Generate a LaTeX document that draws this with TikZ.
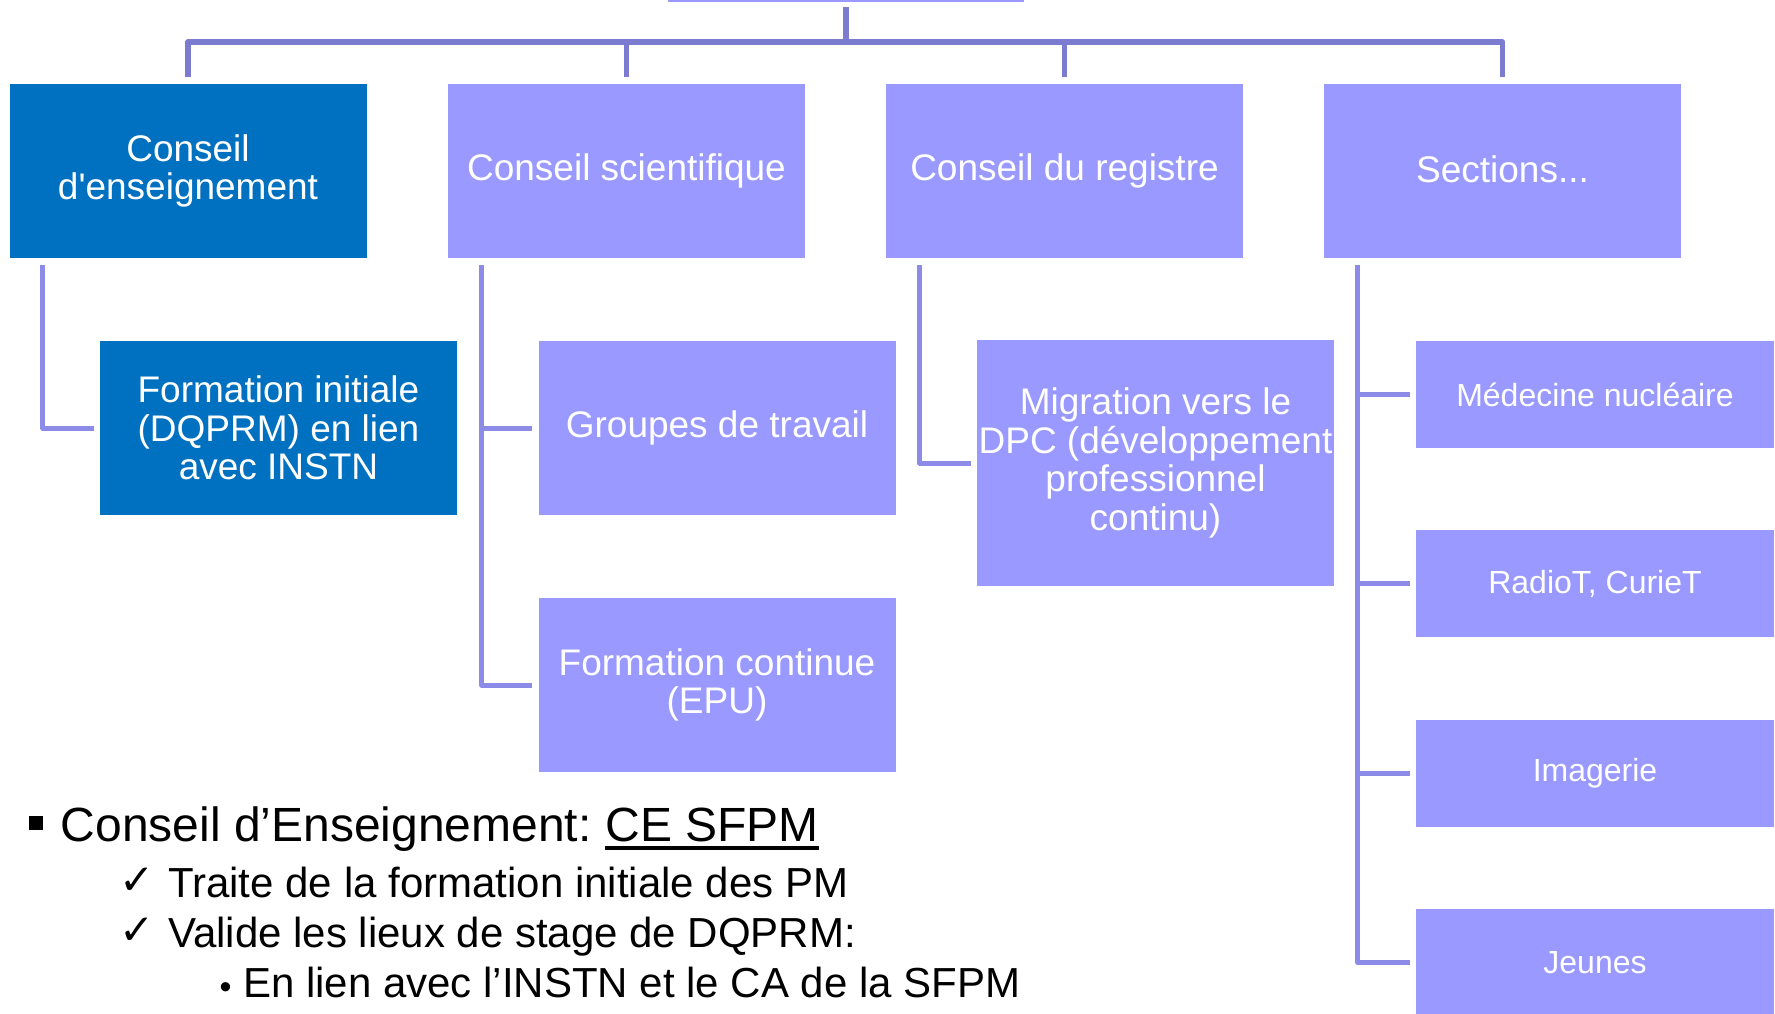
\documentclass[tikz,border=0pt]{standalone}
\usepackage{fontspec}
\newfontfamily\af{Liberation Sans}
\newfontfamily\dv{DejaVu Sans}
\definecolor{dkblue}{HTML}{0070C0}
\definecolor{lav}{HTML}{9999FF}
\definecolor{lineA}{RGB}{123,123,207}
\definecolor{lineB}{RGB}{140,140,232}
\tikzset{
  box/.style={rectangle, inner sep=0pt, text=white, align=center,
    font=\af\fontsize{37}{38.5}\selectfont, minimum width=357pt, minimum height=174pt},
  dbox/.style={box, fill=dkblue},
  lbox/.style={box, fill=lav},
  sbox/.style={lbox, minimum width=358pt, minimum height=107pt, font=\af\fontsize{32}{36}\selectfont},
  topline/.style={draw=lineA, line width=5.5pt, line join=round},
  subline/.style={draw=lineB, line width=5pt, line join=round},
  bigtxt/.style={anchor=base west, inner sep=0pt, font=\af\fontsize{48}{48}\selectfont},
  midtxt/.style={anchor=base west, inner sep=0pt, font=\af\fontsize{42}{42}\selectfont},
  chk/.style={inner sep=0pt, font=\dv\fontsize{42}{42}\selectfont},
  dot/.style={inner sep=0pt, font=\af\fontsize{34}{34}\selectfont},
}
\begin{document}
\begin{tikzpicture}[x=1pt,y=-1pt]
\useasboundingbox (0,0) rectangle (1775,1013);
\clip (0,0) rectangle (1775,1013);
% root (only bottom visible)
\node[lbox, minimum width=356pt, minimum height=40pt] (root) at (846,-18) {};
% level 1
\node[dbox] (ce) at (188,171) {Conseil\\d'enseignement};
\node[lbox] (cs) at (626.5,171) {Conseil scientifique};
\node[lbox] (cr) at (1064.5,171) {Conseil du registre};
\node[lbox] (sec) at (1502.5,171) {\raisebox{4.5pt}{Sections...}};
% level 2
\node[dbox] (fi) at (278.5,428) {Formation initiale\\(DQPRM) en lien\\avec INSTN};
\node[lbox] (gt) at (717,428) {Groupes de travail};
\node[lbox] (fc) at (717,685) {Formation continue\\(EPU)};
\node[lbox, minimum height=246pt] (dpc) at (1155.5,463) {Migration vers le\\DPC (développement\\professionnel\\continu)};
\node[sbox] (mn) at (1595,394.5) {Médecine nucléaire};
\node[sbox] (rt) at (1595,583.5) {RadioT, CurieT};
\node[sbox] (im) at (1595,773) {Imagerie};
\node[sbox] (je) at (1595,962.5) {Jeunes};
% top connectors
\coordinate (bar) at (0,42);
\draw[topline] ([yshift=-5pt]root.south) -- (root.south |- bar);
\draw[topline] ([yshift=7pt]ce.north) -- (ce.north |- bar) -- (sec.north |- bar) -- ([yshift=7pt]sec.north);
\draw[topline] (cs.north |- bar) -- ([yshift=7pt]cs.north);
\draw[topline] (cr.north |- bar) -- ([yshift=7pt]cr.north);
% sub connectors
\coordinate (cev) at ([xshift=33.5pt,yshift=-7pt]ce.south west);
\draw[subline] (cev) |- ([xshift=-6pt]fi.west);
\coordinate (csv) at ([xshift=34pt,yshift=-7pt]cs.south west);
\draw[subline] (csv) |- ([xshift=-6pt]fc.west);
\draw[subline] (csv |- gt.west) -- ([xshift=-6pt]gt.west);
\coordinate (crv) at ([xshift=34pt,yshift=-7pt]cr.south west);
\draw[subline] (crv) |- ([xshift=-6pt]dpc.west);
\coordinate (secv) at ([xshift=34pt,yshift=-7pt]sec.south west);
\draw[subline] (secv) |- ([xshift=-6pt]je.west);
\foreach \n in {mn,rt,im} \draw[subline] (secv |- \n.west) -- ([xshift=-6pt]\n.west);
% bottom text
\node[fill=black, inner sep=0pt, minimum size=14pt] (sq) at (36,822.5) {};
\node[bigtxt] (l1a) at (60.5,841) {Conseil d’Enseignement:};
\node[bigtxt] (l1b) at ([xshift=13.3pt]l1a.base east) {CE SFPM};
\draw[line width=3.5pt] ([yshift=-7pt]l1b.base west) -- ([yshift=-7pt]l1b.base east);
\node[chk] (ck1) at (137,881) {✓};
\node[midtxt] (l2) at (168,897) {Traite de la formation initiale des PM};
\node[chk] (ck2) at (137,931) {✓};
\node[midtxt] (l3) at (168,947) {Valide les lieux de stage de DQPRM:};
\node[dot] (b4) at (225.5,991) {•};
\node[midtxt] (l4) at (243,997) {En lien avec l’INSTN et le CA de la SFPM};
\end{tikzpicture}
\end{document}
